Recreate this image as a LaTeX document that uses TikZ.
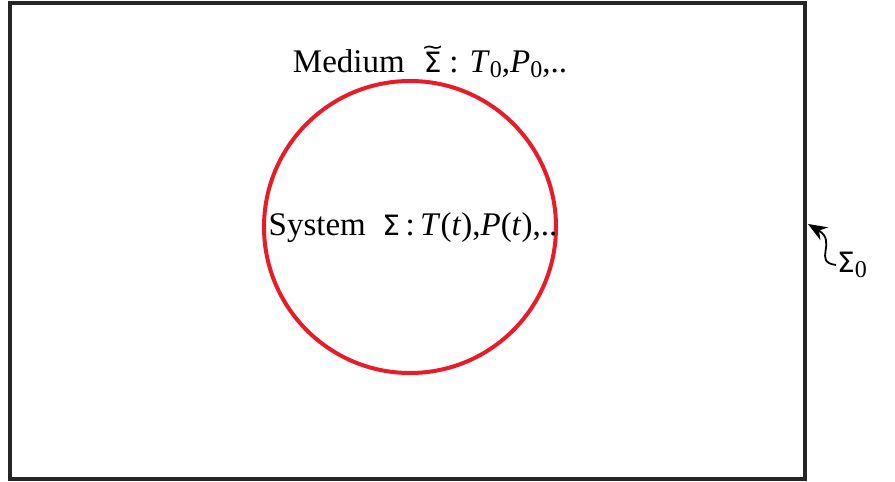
\documentclass[tikz,border=0pt]{standalone}
\usepackage{fontspec}
\setmainfont{Liberation Serif}
\newfontfamily\sigfont{DejaVu Sans}
\usetikzlibrary{positioning,arrows.meta}
\definecolor{ringred}{RGB}{232,28,40}
\tikzset{
  lbl/.style={inner sep=1pt,font=\fontsize{33}{36}\selectfont},
}
\newcommand{\sig}{{\sigfont\fontsize{28}{30}\selectfont Σ}}
\newcommand{\tsig}{\vbox{\offinterlineskip\halign{\hfil##\hfil\cr
  \scalebox{1.5}[1.2]{\sigfont\fontsize{18}{20}\selectfont\char"223C}\cr
  \noalign{\kern-3pt}\sig\cr}}}
\newcommand{\sub}[1]{\raisebox{-5pt}{\fontsize{24}{26}\selectfont #1}}
\begin{document}
\begin{tikzpicture}[x=1pt,y=-1pt]
\useasboundingbox (0,0) rectangle (895,482);
\draw[line width=4,black!85] (10,3) rectangle (805,479);
\draw[line width=4,ringred] (410,227) circle (146);
\node[lbl] (medium) at (430,62) {Medium \ \tsig\,: \textit{T}\sub{0},\textit{P}\sub{0},..};
\node[lbl] (system) at (413,228) {System \ \sig\,:\,\textit{T}(\textit{t}),\textit{P}(\textit{t}),..};
\node[lbl,anchor=west] (env) at (836,265) {\sig\kern0pt\sub{0}};
\coordinate (wall) at (808,224);
\draw[line width=1.8,-{Stealth[length=19,width=15]}] (env.west) .. controls (812,262) and (838,242) .. (wall);
\end{tikzpicture}
\end{document}
